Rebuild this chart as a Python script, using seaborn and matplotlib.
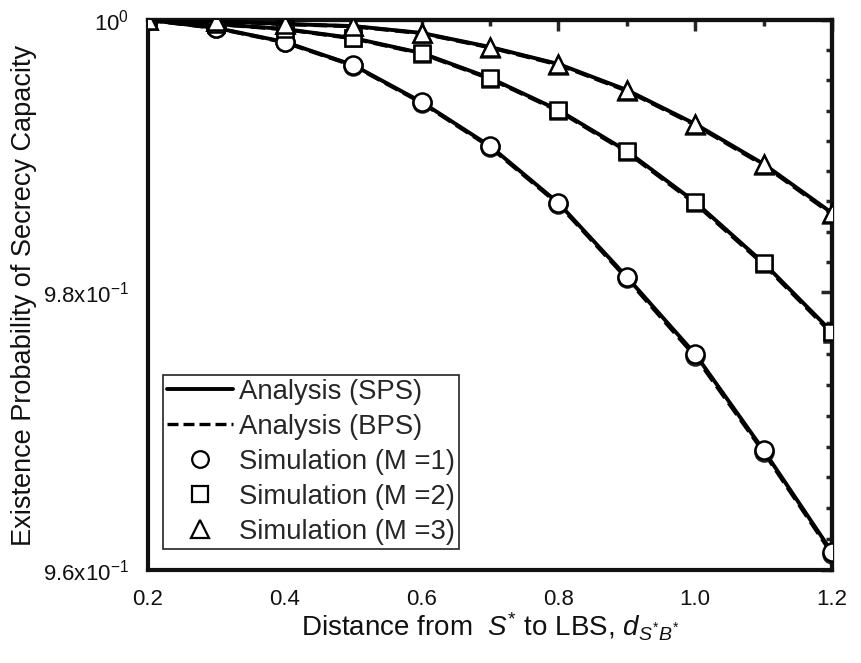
import numpy as np
import pandas as pd
import matplotlib
matplotlib.use("Agg")
import matplotlib.pyplot as plt
import seaborn as sns
from matplotlib.lines import Line2D
from matplotlib.ticker import FixedLocator, NullFormatter

# ---- data ----
distance = [0.2, 0.3, 0.4, 0.5, 0.6, 0.7, 0.8, 0.9, 1.0, 1.1, 1.2]
m1_sps = [1.0, 0.99941, 0.99837, 0.99666, 0.99393, 0.99069, 0.98651, 0.98111, 0.97551, 0.96857, 0.96128]
m2_sps = [1.0, 0.99970, 0.99933, 0.99866, 0.99755, 0.99570, 0.99334, 0.99032, 0.98658, 0.98213, 0.97711]
m3_sps = [1.0, 0.99993, 0.99970, 0.99955, 0.99904, 0.99800, 0.99674, 0.99482, 0.99231, 0.98937, 0.98578]
m1_bps = [1.0, 0.99939, 0.99834, 0.99662, 0.99388, 0.99062, 0.98643, 0.98100, 0.97535, 0.96845, 0.96115]
m2_bps = [1.0, 0.99969, 0.99931, 0.99863, 0.99751, 0.99565, 0.99328, 0.99024, 0.98648, 0.98203, 0.97700]
m3_bps = [1.0, 0.99992, 0.99969, 0.99953, 0.99901, 0.99796, 0.99669, 0.99476, 0.99224, 0.98929, 0.98569]
m_values = [1, 2, 3]
markers = ["o", "s", "^"]

ytick_vals = [0.96, 0.98, 1.0]
ytick_labels = [r"9.6x10$^{-1}$", r"9.8x10$^{-1}$", r"10$^{0}$"]
xtick_vals = [0.2, 0.4, 0.6, 0.8, 1.0, 1.2]
xtick_labels = ["0.2", "0.4", "0.6", "0.8", "1.0", "1.2"]

legend_labels = ["Analysis (SPS)", "Analysis (BPS)",
                 "Simulation (M =1)", "Simulation (M =2)", "Simulation (M =3)"]
xlabel = r"Distance from  $S^{*}$ to LBS, $d_{S^{*}B^{*}}$"
ylabel = "Existence Probability of Secrecy Capacity"

# ---- style ----
sns.set_style("white")
plt.rcParams["font.family"] = ["Liberation Sans", "DejaVu Sans"]
plt.rcParams["mathtext.fontset"] = "custom"
plt.rcParams["mathtext.rm"] = "Liberation Sans"
plt.rcParams["mathtext.it"] = "Liberation Sans:italic"
plt.rcParams["mathtext.bf"] = "Liberation Sans:bold"
plt.rcParams["axes.unicode_minus"] = False

fig = plt.figure(figsize=(8.61, 6.63), dpi=100)
ax = fig.add_axes([148 / 861, 1 - 570 / 663, (832 - 148) / 861, (570 - 20) / 663])

rows = []
for m, sps, bps in zip(m_values, [m1_sps, m2_sps, m3_sps], [m1_bps, m2_bps, m3_bps]):
    for d, s, b in zip(distance, sps, bps):
        rows.append({"d": d, "M": m, "sps": s, "bps": b})
df = pd.DataFrame(rows)

lw = 2.8
for m, mk in zip(m_values, markers):
    sub = df[df["M"] == m]
    ms = 13 if mk != "s" else 12
    sns.lineplot(data=sub, x="d", y="bps", ax=ax, color="black", lw=lw,
                 linestyle="--", marker=mk, markersize=ms,
                 markerfacecolor="white", markeredgecolor="#222222",
                 markeredgewidth=1.8, zorder=2)
    sns.lineplot(data=sub, x="d", y="sps", ax=ax, color="black", lw=lw,
                 linestyle="-", marker=mk, markersize=ms,
                 markerfacecolor="white", markeredgecolor="black",
                 markeredgewidth=1.8, zorder=3)

ax.set_yscale("log")
ax.set_xlim(0.2, 1.2)
ax.set_ylim(0.96, 1.0)

# ticks
fs = 16
ax.yaxis.set_major_locator(FixedLocator(ytick_vals))
ax.set_yticklabels(ytick_labels, fontsize=fs)
minor_y = list(np.geomspace(0.96, 0.98, 10)[1:-1]) + list(np.geomspace(0.98, 1.0, 10)[1:-1])
ax.yaxis.set_minor_locator(FixedLocator(minor_y))
ax.yaxis.set_minor_formatter(NullFormatter())
ax.set_xticks(xtick_vals)
ax.set_xticklabels(xtick_labels, fontsize=fs)
ax.xaxis.set_minor_locator(FixedLocator([0.3, 0.5, 0.7, 0.9, 1.1]))

ax.tick_params(which="major", direction="out", length=8, width=2.5, pad=6, color="black", labelcolor="#111111")
ax.tick_params(which="minor", direction="out", length=4, width=2.5, color="black")

for sp in ax.spines.values():
    sp.set_linewidth(3)
    sp.set_color("#111111")
    sp.set_visible(True)

# mirror axes with inward ticks
secx = ax.secondary_xaxis("top")
secx.set_xticks(xtick_vals)
secx.xaxis.set_minor_locator(FixedLocator([0.3, 0.5, 0.7, 0.9, 1.1]))
secx.tick_params(which="major", direction="in", length=8, width=2.5, labeltop=False)
secx.tick_params(which="minor", direction="in", length=4, width=2.5)
secx.spines["top"].set_linewidth(3)

secy = ax.secondary_yaxis("right")
secy.yaxis.set_major_locator(FixedLocator(ytick_vals))
secy.yaxis.set_minor_locator(FixedLocator(minor_y))
secy.tick_params(which="major", direction="in", length=8, width=2.5, labelright=False)
secy.tick_params(which="minor", direction="in", length=4, width=2.5)
secy.yaxis.set_minor_formatter(NullFormatter())
secy.yaxis.set_major_formatter(NullFormatter())
secy.spines["right"].set_linewidth(3)

ax.set_xlabel(xlabel, fontsize=20, color="#111111")
ax.set_ylabel(ylabel, fontsize=19.5, color="#111111")
ax.xaxis.set_label_coords(0.5, -0.074)
ax.yaxis.set_label_coords(-0.162, 0.5)

handles = [
    Line2D([], [], color="black", lw=2.8, linestyle="-"),
    Line2D([], [], color="black", lw=2.4, linestyle="--", dashes=(3.3, 1.5)),
    Line2D([], [], color="black", lw=0, marker="o", markersize=12, markerfacecolor="white", markeredgewidth=1.6),
    Line2D([], [], color="black", lw=0, marker="s", markersize=11, markerfacecolor="white", markeredgewidth=1.6),
    Line2D([], [], color="black", lw=0, marker="^", markersize=13, markerfacecolor="white", markeredgewidth=1.6),
]
leg = ax.legend(handles, legend_labels, loc="lower left",
                bbox_to_anchor=(0.022, 0.038), fontsize=19.8, frameon=True,
                fancybox=False, edgecolor="#222222", framealpha=1,
                handlelength=2.4, handletextpad=0.2, labelspacing=0.33,
                borderpad=0.15, borderaxespad=0)
leg.get_frame().set_linewidth(1.2)

fig.savefig("out.png", dpi=100)
